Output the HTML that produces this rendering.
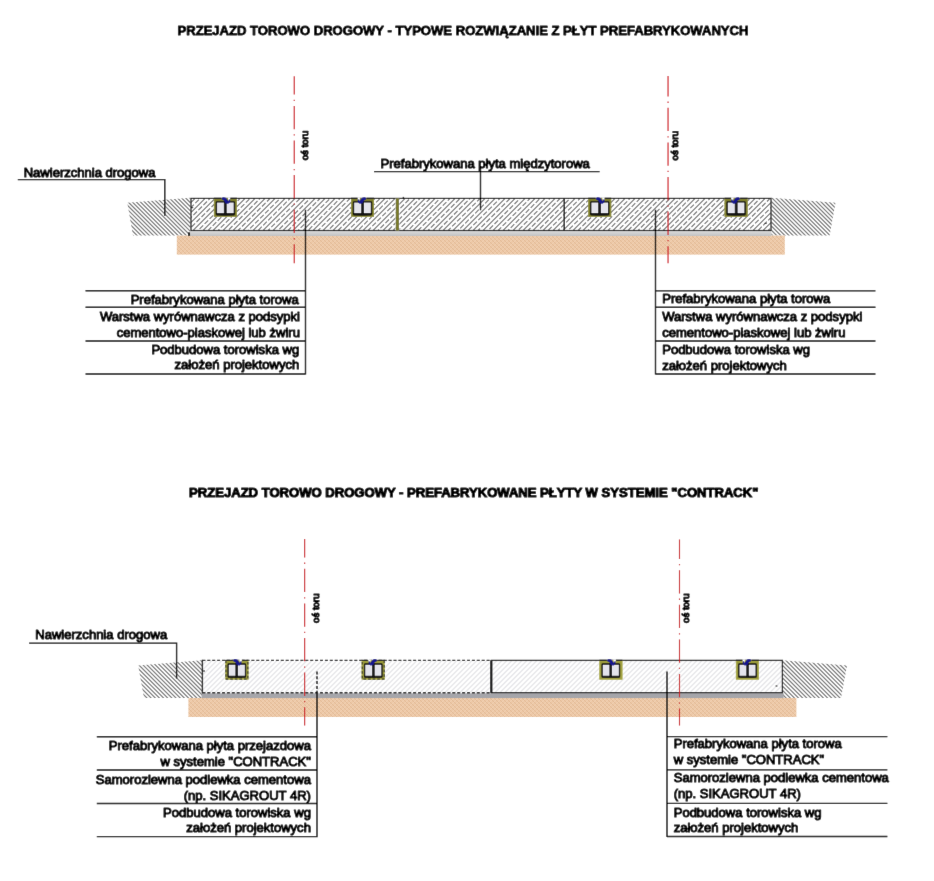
<!DOCTYPE html>
<html lang="pl"><head><meta charset="utf-8"><title>Przejazd torowo drogowy</title>
<style>html,body{margin:0;padding:0;background:#fff;font-family:"Liberation Sans",sans-serif}svg{display:block}</style>
</head><body>
<svg width="934" height="881" viewBox="0 0 934 881" font-family="'Liberation Sans', sans-serif">
<defs>
<filter id="soft" x="0" y="0" width="934" height="881" filterUnits="userSpaceOnUse"><feConvolveMatrix order="3" kernelMatrix="0 1 0 1 12 1 0 1 0" divisor="16" edgeMode="duplicate" preserveAlpha="true"/></filter>
<linearGradient id="gl" x1="0" y1="0" x2="0" y2="1"><stop offset="0" stop-color="#dcdcdc"/><stop offset="1" stop-color="#c2c2c2"/></linearGradient>
<pattern id="hsand" width="4" height="4" patternUnits="userSpaceOnUse">
 <rect width="4" height="4" fill="#edc9a7"/>
 <path d="M-1 -1 L5 5 M-3 1 L3 7 M1 -3 L7 3" stroke="#e0b892" stroke-width="0.9" fill="none"/>
 <path d="M-1 5 L5 -1 M-3 3 L3 -3 M1 7 L7 1" stroke="#f3d6bb" stroke-width="0.7" fill="none"/>
</pattern>
</defs>
<style>
.ln{stroke:#050505;stroke-width:1.4;fill:none}
.lb{font-size:13.04px;fill:#000;stroke:#000;stroke-width:1.1px;stroke-linejoin:round}
.tt{font-size:13px;font-weight:bold;fill:#000;stroke:#000;stroke-width:0.9px;stroke-linejoin:round}
.t2{stroke-width:1.15px}
.vt{font-size:9.7px;fill:#000;stroke:#000;stroke-width:1.2px;stroke-linejoin:round}
</style>
<g filter="url(#soft)">
<rect x="-5" y="-5" width="944" height="891" fill="#fff"/>

<text x="177.5" y="34.85" class="tt" textLength="570.9" lengthAdjust="spacingAndGlyphs">PRZEJAZD TOROWO DROGOWY - TYPOWE ROZWIĄZANIE Z PŁYT PREFABRYKOWANYCH</text>
<g>
<clipPath id="c1"><polygon points="127.3,202.8 190.5,197.8 190.5,235.4 133,235.4"/></clipPath><path d="M196.0 196.0L236.6 236.6M191.9 196.0L232.5 236.6M187.8 196.0L228.4 236.6M183.7 196.0L224.3 236.6M179.6 196.0L220.2 236.6M175.5 196.0L216.1 236.6M171.4 196.0L212.0 236.6M167.3 196.0L207.9 236.6M163.2 196.0L203.8 236.6M159.1 196.0L199.7 236.6M155.0 196.0L195.6 236.6M150.9 196.0L191.5 236.6M146.8 196.0L187.4 236.6M142.7 196.0L183.3 236.6M138.6 196.0L179.2 236.6M134.5 196.0L175.1 236.6M130.4 196.0L171.0 236.6M126.3 196.0L166.9 236.6M122.2 196.0L162.8 236.6M118.1 196.0L158.7 236.6M114.0 196.0L154.6 236.6M109.9 196.0L150.5 236.6M105.8 196.0L146.4 236.6M101.7 196.0L142.3 236.6M97.6 196.0L138.2 236.6M93.5 196.0L134.1 236.6M89.4 196.0L130.0 236.6M85.3 196.0L125.9 236.6M81.2 196.0L121.8 236.6" clip-path="url(#c1)" stroke="#707070" stroke-width="1.18" fill="none"/>
<clipPath id="c2"><polygon points="771.3,197.8 835.5,202.8 829.6,235.4 771.3,235.4"/></clipPath><path d="M839.7 196.0L880.3 236.6M835.6 196.0L876.2 236.6M831.5 196.0L872.1 236.6M827.4 196.0L868.0 236.6M823.3 196.0L863.9 236.6M819.2 196.0L859.8 236.6M815.1 196.0L855.7 236.6M811.0 196.0L851.6 236.6M806.9 196.0L847.5 236.6M802.8 196.0L843.4 236.6M798.7 196.0L839.3 236.6M794.6 196.0L835.2 236.6M790.5 196.0L831.1 236.6M786.4 196.0L827.0 236.6M782.3 196.0L822.9 236.6M778.2 196.0L818.8 236.6M774.1 196.0L814.7 236.6M770.0 196.0L810.6 236.6M765.9 196.0L806.5 236.6M761.8 196.0L802.4 236.6M757.7 196.0L798.3 236.6M753.6 196.0L794.2 236.6M749.5 196.0L790.1 236.6M745.4 196.0L786.0 236.6M741.3 196.0L781.9 236.6M737.2 196.0L777.8 236.6M733.1 196.0L773.7 236.6M729.0 196.0L769.6 236.6M724.9 196.0L765.5 236.6" clip-path="url(#c2)" stroke="#707070" stroke-width="1.18" fill="none"/>
</g>
<rect x="176.8" y="235.6" width="608" height="19" fill="url(#hsand)"/>
<rect x="190.3" y="231" width="581" height="5" fill="url(#gl)"/>
<g>
<rect x="191" y="198.4" width="580" height="32.099999999999994" fill="#fff"/>
<clipPath id="c3"><rect x="191" y="198.4" width="580" height="32.1"/></clipPath><g clip-path="url(#c3)"><path d="M142.0 231.5L176.1 197.4M152.0 231.5L186.1 197.4M162.0 231.5L196.1 197.4M172.0 231.5L206.1 197.4M182.0 231.5L216.1 197.4M192.0 231.5L226.1 197.4M202.0 231.5L236.1 197.4M212.0 231.5L246.1 197.4M222.0 231.5L256.1 197.4M232.0 231.5L266.1 197.4M242.0 231.5L276.1 197.4M252.0 231.5L286.1 197.4M262.0 231.5L296.1 197.4M272.0 231.5L306.1 197.4M282.0 231.5L316.1 197.4M292.0 231.5L326.1 197.4M302.0 231.5L336.1 197.4M312.0 231.5L346.1 197.4M322.0 231.5L356.1 197.4M332.0 231.5L366.1 197.4M342.0 231.5L376.1 197.4M352.0 231.5L386.1 197.4M362.0 231.5L396.1 197.4M372.0 231.5L406.1 197.4M382.0 231.5L416.1 197.4M392.0 231.5L426.1 197.4M402.0 231.5L436.1 197.4M412.0 231.5L446.1 197.4M422.0 231.5L456.1 197.4M432.0 231.5L466.1 197.4M442.0 231.5L476.1 197.4M452.0 231.5L486.1 197.4M462.0 231.5L496.1 197.4M472.0 231.5L506.1 197.4M482.0 231.5L516.1 197.4M492.0 231.5L526.1 197.4M502.0 231.5L536.1 197.4M512.0 231.5L546.1 197.4M522.0 231.5L556.1 197.4M532.0 231.5L566.1 197.4M542.0 231.5L576.1 197.4M552.0 231.5L586.1 197.4M562.0 231.5L596.1 197.4M572.0 231.5L606.1 197.4M582.0 231.5L616.1 197.4M592.0 231.5L626.1 197.4M602.0 231.5L636.1 197.4M612.0 231.5L646.1 197.4M622.0 231.5L656.1 197.4M632.0 231.5L666.1 197.4M642.0 231.5L676.1 197.4M652.0 231.5L686.1 197.4M662.0 231.5L696.1 197.4M672.0 231.5L706.1 197.4M682.0 231.5L716.1 197.4M692.0 231.5L726.1 197.4M702.0 231.5L736.1 197.4M712.0 231.5L746.1 197.4M722.0 231.5L756.1 197.4M732.0 231.5L766.1 197.4M742.0 231.5L776.1 197.4M752.0 231.5L786.1 197.4M762.0 231.5L796.1 197.4M772.0 231.5L806.1 197.4M782.0 231.5L816.1 197.4" stroke="#6a6a6a" stroke-width="1.1" fill="none"/></g>
<clipPath id="c4"><rect x="191" y="198.4" width="580" height="32.1"/></clipPath><g clip-path="url(#c4)"><path d="M144.1 234.4L181.1 197.4M152.2 236.3L191.1 197.4M165.3 233.2L201.1 197.4M173.4 235.1L211.1 197.4M186.5 232.0L221.1 197.4M194.6 233.9L231.1 197.4M202.7 235.8L241.1 197.4M215.8 232.7L251.1 197.4M223.9 234.6L261.1 197.4M237.0 231.5L271.1 197.4M245.1 233.4L281.1 197.4M253.2 235.3L291.1 197.4M266.3 232.2L301.1 197.4M274.4 234.1L311.1 197.4M282.5 236.0L321.1 197.4M295.6 232.9L331.1 197.4M303.7 234.8L341.1 197.4M316.8 231.7L351.1 197.4M324.9 233.6L361.1 197.4M333.0 235.5L371.1 197.4M346.1 232.4L381.1 197.4M354.2 234.3L391.1 197.4M362.3 236.2L401.1 197.4M375.4 233.1L411.1 197.4M383.5 235.0L421.1 197.4M396.6 231.9L431.1 197.4M404.7 233.8L441.1 197.4M412.8 235.7L451.1 197.4M425.9 232.6L461.1 197.4M434.0 234.5L471.1 197.4M442.1 236.4L481.1 197.4M455.2 233.3L491.1 197.4M463.3 235.2L501.1 197.4M476.4 232.1L511.1 197.4M484.5 234.0L521.1 197.4M492.6 235.9L531.1 197.4M505.7 232.8L541.1 197.4M513.8 234.7L551.1 197.4M526.9 231.6L561.1 197.4M535.0 233.5L571.1 197.4M543.1 235.4L581.1 197.4M556.2 232.3L591.1 197.4M564.3 234.2L601.1 197.4M572.4 236.1L611.1 197.4M585.5 233.0L621.1 197.4M593.6 234.9L631.1 197.4M606.7 231.8L641.1 197.4M614.8 233.7L651.1 197.4M622.9 235.6L661.1 197.4M636.0 232.5L671.1 197.4M644.1 234.4L681.1 197.4M652.2 236.3L691.1 197.4M665.3 233.2L701.1 197.4M673.4 235.1L711.1 197.4M686.5 232.0L721.1 197.4M694.6 233.9L731.1 197.4M702.7 235.8L741.1 197.4M715.8 232.7L751.1 197.4M723.9 234.6L761.1 197.4M737.0 231.5L771.1 197.4M745.1 233.4L781.1 197.4M753.2 235.3L791.1 197.4M766.3 232.2L801.1 197.4M774.4 234.1L811.1 197.4M782.5 236.0L821.1 197.4" stroke="#6a6a6a" stroke-width="1.1" fill="none" stroke-dasharray="5.1 1.97"/></g>
<rect x="191" y="198.4" width="580" height="32.099999999999994" fill="none" stroke="#181818" stroke-width="1.2"/>
</g>
<rect x="395.4" y="198.4" width="4" height="32.099999999999994" fill="#fff"/>
<rect x="396" y="198.4" width="2.8" height="32.099999999999994" fill="#7c7c2c" stroke="#5a5a22" stroke-width="0.4"/>
<rect x="402.7" y="196.9" width="1.4" height="1.4" fill="#111"/>
<path d="M564.2 198.4V230.5" stroke="#111" stroke-width="1.4"/>
<rect x="188" y="232.4" width="2.1" height="3.4" fill="#111"/>
<path d="M191 207.7 H193.2 M764.6 223.4 H766.6" stroke="#111" stroke-width="1"/>
<g transform="translate(213.9,198.4)"><rect x="0" y="-0.4" width="23" height="18.799999999999997" fill="#7a7a2a"/><rect x="0.4" y="0.4" width="22.2" height="17.599999999999998" fill="none" stroke="#9c9c44" stroke-width="0.7"/><rect x="2.5" y="3.5" width="18" height="12.9" rx="0.8" fill="#e4e4ec" stroke="#0e0e0e" stroke-width="1.35"/><path d="M2.6 14.6 H20.4 V16.4 Q11.5 17.6 2.6 16.4 Z" fill="#161616"/><rect x="10" y="3" width="2.8" height="12" fill="#141414"/><path d="M13.8 -1 L16.4 -1 L16.2 1.2 L15 3.2 Z" fill="#fff"/><path d="M7.6 0.2 C7.8 -1.5 10.8 -1.8 12.2 -0.3 L14.4 2.8 L15.4 0.9 L16.4 1.4 L16 4.2 L14.2 5.4 L11.6 5 L10 2 L8.2 1.3 Z" fill="#18188c"/><path d="M0 0 H7.4 M16.6 0 H23" stroke="#111" stroke-width="1.2" fill="none"/></g>
<g transform="translate(351.1,198.4) translate(22.9,0) scale(-1,1)"><rect x="0" y="-0.4" width="23" height="18.799999999999997" fill="#7a7a2a"/><rect x="0.4" y="0.4" width="22.2" height="17.599999999999998" fill="none" stroke="#9c9c44" stroke-width="0.7"/><rect x="2.5" y="3.5" width="18" height="12.9" rx="0.8" fill="#e4e4ec" stroke="#0e0e0e" stroke-width="1.35"/><path d="M2.6 14.6 H20.4 V16.4 Q11.5 17.6 2.6 16.4 Z" fill="#161616"/><rect x="10" y="3" width="2.8" height="12" fill="#141414"/><path d="M13.8 -1 L16.4 -1 L16.2 1.2 L15 3.2 Z" fill="#fff"/><path d="M7.6 0.2 C7.8 -1.5 10.8 -1.8 12.2 -0.3 L14.4 2.8 L15.4 0.9 L16.4 1.4 L16 4.2 L14.2 5.4 L11.6 5 L10 2 L8.2 1.3 Z" fill="#18188c"/><path d="M0 0 H7.4 M16.6 0 H23" stroke="#111" stroke-width="1.2" fill="none"/></g>
<g transform="translate(588.2,198.4)"><rect x="0" y="-0.4" width="23" height="18.799999999999997" fill="#7a7a2a"/><rect x="0.4" y="0.4" width="22.2" height="17.599999999999998" fill="none" stroke="#9c9c44" stroke-width="0.7"/><rect x="2.5" y="3.5" width="18" height="12.9" rx="0.8" fill="#e4e4ec" stroke="#0e0e0e" stroke-width="1.35"/><path d="M2.6 14.6 H20.4 V16.4 Q11.5 17.6 2.6 16.4 Z" fill="#161616"/><rect x="10" y="3" width="2.8" height="12" fill="#141414"/><path d="M13.8 -1 L16.4 -1 L16.2 1.2 L15 3.2 Z" fill="#fff"/><path d="M7.6 0.2 C7.8 -1.5 10.8 -1.8 12.2 -0.3 L14.4 2.8 L15.4 0.9 L16.4 1.4 L16 4.2 L14.2 5.4 L11.6 5 L10 2 L8.2 1.3 Z" fill="#18188c"/><path d="M0 0 H7.4 M16.6 0 H23" stroke="#111" stroke-width="1.2" fill="none"/></g>
<g transform="translate(724.7,198.4) translate(22.9,0) scale(-1,1)"><rect x="0" y="-0.4" width="23" height="18.799999999999997" fill="#7a7a2a"/><rect x="0.4" y="0.4" width="22.2" height="17.599999999999998" fill="none" stroke="#9c9c44" stroke-width="0.7"/><rect x="2.5" y="3.5" width="18" height="12.9" rx="0.8" fill="#e4e4ec" stroke="#0e0e0e" stroke-width="1.35"/><path d="M2.6 14.6 H20.4 V16.4 Q11.5 17.6 2.6 16.4 Z" fill="#161616"/><rect x="10" y="3" width="2.8" height="12" fill="#141414"/><path d="M13.8 -1 L16.4 -1 L16.2 1.2 L15 3.2 Z" fill="#fff"/><path d="M7.6 0.2 C7.8 -1.5 10.8 -1.8 12.2 -0.3 L14.4 2.8 L15.4 0.9 L16.4 1.4 L16 4.2 L14.2 5.4 L11.6 5 L10 2 L8.2 1.3 Z" fill="#18188c"/><path d="M0 0 H7.4 M16.6 0 H23" stroke="#111" stroke-width="1.2" fill="none"/></g>
<line x1="294.25" y1="76.2" x2="294.25" y2="263.2" stroke="#cc1c24" stroke-width="1.15" stroke-dasharray="23.3 5.1 1.3 4.9" stroke-dashoffset="4.9"/>
<line x1="668.05" y1="76.1" x2="668.05" y2="263.2" stroke="#cc1c24" stroke-width="1.15" stroke-dasharray="23.3 5.1 1.3 4.9" stroke-dashoffset="2.9"/>
<text transform="translate(307.9,145.5) rotate(-90)" text-anchor="middle" class="vt">oś toru</text>
<text transform="translate(677.9,145.7) rotate(-90)" text-anchor="middle" class="vt">oś toru</text>
<text x="23.7" y="176.5" class="lb">Nawierzchnia drogowa</text>
<path d="M17.8 179.6 H164.8 V215.8" class="ln"/>
<text x="380.5" y="168" class="lb">Prefabrykowana płyta międzytorowa</text>
<path d="M374 171.6 H599.6 M480.5 166 V210.2" class="ln"/>
<path d="M85.5 290.8H305.5M85.5 307.2H305.5M85.5 341H305.5M85.5 374H305.5M305.5 209.7V374.6" class="ln"/><text x="298.7" y="303.7" text-anchor="end" class="lb">Prefabrykowana płyta torowa</text><text x="300.0" y="321.2" text-anchor="end" class="lb">Warstwa wyrównawcza z podsypki</text><text x="299.9" y="337" text-anchor="end" class="lb">cementowo-piaskowej lub żwiru</text><text x="299.2" y="354.4" text-anchor="end" class="lb">Podbudowa torowiska wg</text><text x="299.2" y="369.2" text-anchor="end" class="lb">założeń projektowych</text>
<path d="M655.5 290.9H875.5M655.5 307.2H875.5M655.5 341H875.5M655.5 374H875.5M655.5 209.7V374.6" class="ln"/><text x="662.2" y="303.4" class="lb">Prefabrykowana płyta torowa</text><text x="662.2" y="320.7" class="lb">Warstwa wyrównawcza z podsypki</text><text x="662.2" y="337" class="lb">cementowo-piaskowej lub żwiru</text><text x="662.2" y="354.3" class="lb">Podbudowa torowiska wg</text><text x="662.2" y="369.5" class="lb">założeń projektowych</text>
<text x="189.1" y="497.4" class="tt t2" textLength="569.3" lengthAdjust="spacingAndGlyphs">PRZEJAZD TOROWO DROGOWY - PREFABRYKOWANE PŁYTY W SYSTEMIE "CONTRACK"</text>
<g>
<clipPath id="c5"><polygon points="138.2,665.4 202,660.2 202,698 144,698"/></clipPath><path d="M206.6 658.0L247.8 699.2M202.4 658.0L243.6 699.2M198.2 658.0L239.5 699.2M194.1 658.0L235.3 699.2M189.9 658.0L231.2 699.2M185.8 658.0L227.0 699.2M181.6 658.0L222.9 699.2M177.5 658.0L218.7 699.2M173.4 658.0L214.6 699.2M169.2 658.0L210.4 699.2M165.1 658.0L206.3 699.2M160.9 658.0L202.1 699.2M156.8 658.0L198.0 699.2M152.6 658.0L193.8 699.2M148.4 658.0L189.7 699.2M144.3 658.0L185.5 699.2M140.1 658.0L181.4 699.2M136.0 658.0L177.2 699.2M131.9 658.0L173.1 699.2M127.7 658.0L168.9 699.2M123.5 658.0L164.8 699.2M119.4 658.0L160.6 699.2M115.2 658.0L156.5 699.2M111.1 658.0L152.3 699.2M107.0 658.0L148.2 699.2M102.8 658.0L144.0 699.2M98.6 658.0L139.9 699.2M94.5 658.0L135.7 699.2M90.4 658.0L131.6 699.2" clip-path="url(#c5)" stroke="#707070" stroke-width="1.18" fill="none"/>
<clipPath id="c6"><polygon points="782.6,660.2 847,665.4 841,698 782.6,698"/></clipPath><path d="M854.0 658.0L895.2 699.2M849.8 658.0L891.0 699.2M845.7 658.0L886.9 699.2M841.5 658.0L882.7 699.2M837.4 658.0L878.6 699.2M833.2 658.0L874.4 699.2M829.1 658.0L870.3 699.2M824.9 658.0L866.1 699.2M820.8 658.0L862.0 699.2M816.6 658.0L857.8 699.2M812.5 658.0L853.7 699.2M808.3 658.0L849.5 699.2M804.2 658.0L845.4 699.2M800.0 658.0L841.2 699.2M795.9 658.0L837.1 699.2M791.7 658.0L832.9 699.2M787.6 658.0L828.8 699.2M783.4 658.0L824.6 699.2M779.2 658.0L820.5 699.2M775.1 658.0L816.3 699.2M771.0 658.0L812.2 699.2M766.8 658.0L808.0 699.2M762.7 658.0L803.9 699.2M758.5 658.0L799.7 699.2M754.4 658.0L795.6 699.2M750.2 658.0L791.4 699.2M746.1 658.0L787.3 699.2M741.9 658.0L783.1 699.2M737.8 658.0L779.0 699.2M733.6 658.0L774.8 699.2" clip-path="url(#c6)" stroke="#707070" stroke-width="1.18" fill="none"/>
</g>
<rect x="188.4" y="698" width="608" height="19" fill="url(#hsand)"/>
<rect x="201.6" y="693.3" width="582" height="4.8" fill="#a6a6aa"/>
<g>
<rect x="202.4" y="660.4" width="580" height="32.30000000000007" fill="#fff"/>
<clipPath id="c7"><rect x="202.4" y="660.4" width="580.0" height="32.3"/></clipPath><g clip-path="url(#c7)"><path d="M163.8 693.7L198.1 659.4M168.8 693.7L203.1 659.4M173.8 693.7L208.1 659.4M178.8 693.7L213.1 659.4M183.8 693.7L218.1 659.4M188.8 693.7L223.1 659.4M193.8 693.7L228.1 659.4M198.8 693.7L233.1 659.4M203.8 693.7L238.1 659.4M208.8 693.7L243.1 659.4M213.8 693.7L248.1 659.4M218.8 693.7L253.1 659.4M223.8 693.7L258.1 659.4M228.8 693.7L263.1 659.4M233.8 693.7L268.1 659.4M238.8 693.7L273.1 659.4M243.8 693.7L278.1 659.4M248.8 693.7L283.1 659.4M253.8 693.7L288.1 659.4M258.8 693.7L293.1 659.4M263.8 693.7L298.1 659.4M268.8 693.7L303.1 659.4M273.8 693.7L308.1 659.4M278.8 693.7L313.1 659.4M283.8 693.7L318.1 659.4M288.8 693.7L323.1 659.4M293.8 693.7L328.1 659.4M298.8 693.7L333.1 659.4M303.8 693.7L338.1 659.4M308.8 693.7L343.1 659.4M313.8 693.7L348.1 659.4M318.8 693.7L353.1 659.4M323.8 693.7L358.1 659.4M328.8 693.7L363.1 659.4M333.8 693.7L368.1 659.4M338.8 693.7L373.1 659.4M343.8 693.7L378.1 659.4M348.8 693.7L383.1 659.4M353.8 693.7L388.1 659.4M358.8 693.7L393.1 659.4M363.8 693.7L398.1 659.4M368.8 693.7L403.1 659.4M373.8 693.7L408.1 659.4M378.8 693.7L413.1 659.4M383.8 693.7L418.1 659.4M388.8 693.7L423.1 659.4M393.8 693.7L428.1 659.4M398.8 693.7L433.1 659.4M403.8 693.7L438.1 659.4M408.8 693.7L443.1 659.4M413.8 693.7L448.1 659.4M418.8 693.7L453.1 659.4M423.8 693.7L458.1 659.4M428.8 693.7L463.1 659.4M433.8 693.7L468.1 659.4M438.8 693.7L473.1 659.4M443.8 693.7L478.1 659.4M448.8 693.7L483.1 659.4M453.8 693.7L488.1 659.4M458.8 693.7L493.1 659.4M463.8 693.7L498.1 659.4M468.8 693.7L503.1 659.4M473.8 693.7L508.1 659.4M478.8 693.7L513.1 659.4M483.8 693.7L518.1 659.4M488.8 693.7L523.1 659.4M493.8 693.7L528.1 659.4M498.8 693.7L533.1 659.4M503.8 693.7L538.1 659.4M508.8 693.7L543.1 659.4M513.8 693.7L548.1 659.4M518.8 693.7L553.1 659.4M523.8 693.7L558.1 659.4M528.8 693.7L563.1 659.4M533.8 693.7L568.1 659.4M538.8 693.7L573.1 659.4M543.8 693.7L578.1 659.4M548.8 693.7L583.1 659.4M553.8 693.7L588.1 659.4M558.8 693.7L593.1 659.4M563.8 693.7L598.1 659.4M568.8 693.7L603.1 659.4M573.8 693.7L608.1 659.4M578.8 693.7L613.1 659.4M583.8 693.7L618.1 659.4M588.8 693.7L623.1 659.4M593.8 693.7L628.1 659.4M598.8 693.7L633.1 659.4M603.8 693.7L638.1 659.4M608.8 693.7L643.1 659.4M613.8 693.7L648.1 659.4M618.8 693.7L653.1 659.4M623.8 693.7L658.1 659.4M628.8 693.7L663.1 659.4M633.8 693.7L668.1 659.4M638.8 693.7L673.1 659.4M643.8 693.7L678.1 659.4M648.8 693.7L683.1 659.4M653.8 693.7L688.1 659.4M658.8 693.7L693.1 659.4M663.8 693.7L698.1 659.4M668.8 693.7L703.1 659.4M673.8 693.7L708.1 659.4M678.8 693.7L713.1 659.4M683.8 693.7L718.1 659.4M688.8 693.7L723.1 659.4M693.8 693.7L728.1 659.4M698.8 693.7L733.1 659.4M703.8 693.7L738.1 659.4M708.8 693.7L743.1 659.4M713.8 693.7L748.1 659.4M718.8 693.7L753.1 659.4M723.8 693.7L758.1 659.4M728.8 693.7L763.1 659.4M733.8 693.7L768.1 659.4M738.8 693.7L773.1 659.4M743.8 693.7L778.1 659.4M748.8 693.7L783.1 659.4M753.8 693.7L788.1 659.4M758.8 693.7L793.1 659.4M763.8 693.7L798.1 659.4M768.8 693.7L803.1 659.4M773.8 693.7L808.1 659.4M778.8 693.7L813.1 659.4M783.8 693.7L818.1 659.4M788.8 693.7L823.1 659.4" stroke="#e5e5e8" stroke-width="1.3" fill="none"/></g>
<path d="M202.4 660.4 H491.4 M202.4 692.7 H491.4" fill="none" stroke="#1c1c1c" stroke-width="1.4" stroke-dasharray="3 1.9"/>
<path d="M202.4 659.8 V693.3000000000001" fill="none" stroke="#1c1c1c" stroke-width="1.4"/>
<rect x="491.4" y="660.4" width="291" height="32.30000000000007" fill="none" stroke="#1a1a1a" stroke-width="1.3"/>
<path d="M491.3 660.4 V692.7" stroke="#111" stroke-width="2.2"/>
</g>
<path d="M202.4 671 H205 M775.6 686 H777.4" stroke="#111" stroke-width="1"/>
<g transform="translate(225.4,660.4)"><rect x="0" y="-0.4" width="23" height="19.599999999999998" fill="#98983a"/><rect x="0.4" y="0.4" width="22.2" height="18.4" fill="none" stroke="#b4b450" stroke-width="0.7"/><rect x="2.7" y="3.6" width="17.4" height="13.2" rx="0.8" fill="#e4e4ec" stroke="#0e0e0e" stroke-width="1.3"/><path d="M2.8 15.4 H20 V16.8 Q11.4 17.8 2.8 16.8 Z" fill="#161616"/><rect x="10" y="3" width="2.6" height="13" fill="#141414"/><path d="M13.8 -1 L16.4 -1 L16.2 1.2 L15 3.2 Z" fill="#fff"/><path d="M7.6 0 C7.8 -1.6 10.8 -2 12.2 -0.6 L14.4 2.6 L15.4 0.6 L16.2 1 L15.8 3.8 L14.2 5.2 L11.6 4.8 L10 1.8 L8.2 1 Z" fill="#17178c"/><path d="M0 0 H7.4 M16.6 0 H23" stroke="#111" stroke-width="1.2" fill="none"/><path d="M0.5 0 V18.7 H22.5 V0" fill="none" stroke="#1c1c1c" stroke-width="0.9" stroke-dasharray="2.6 2"/></g>
<g transform="translate(361.8,660.4) translate(22.9,0) scale(-1,1)"><rect x="0" y="-0.4" width="23" height="19.599999999999998" fill="#98983a"/><rect x="0.4" y="0.4" width="22.2" height="18.4" fill="none" stroke="#b4b450" stroke-width="0.7"/><rect x="2.7" y="3.6" width="17.4" height="13.2" rx="0.8" fill="#e4e4ec" stroke="#0e0e0e" stroke-width="1.3"/><path d="M2.8 15.4 H20 V16.8 Q11.4 17.8 2.8 16.8 Z" fill="#161616"/><rect x="10" y="3" width="2.6" height="13" fill="#141414"/><path d="M13.8 -1 L16.4 -1 L16.2 1.2 L15 3.2 Z" fill="#fff"/><path d="M7.6 0 C7.8 -1.6 10.8 -2 12.2 -0.6 L14.4 2.6 L15.4 0.6 L16.2 1 L15.8 3.8 L14.2 5.2 L11.6 4.8 L10 1.8 L8.2 1 Z" fill="#17178c"/><path d="M0 0 H7.4 M16.6 0 H23" stroke="#111" stroke-width="1.2" fill="none"/><path d="M0.5 0 V18.7 H22.5 V0" fill="none" stroke="#1c1c1c" stroke-width="0.9" stroke-dasharray="2.6 2"/></g>
<g transform="translate(599.4,660.4)"><rect x="0" y="-0.4" width="23" height="19.599999999999998" fill="#98983a"/><rect x="0.4" y="0.4" width="22.2" height="18.4" fill="none" stroke="#b4b450" stroke-width="0.7"/><rect x="2.7" y="3.6" width="17.4" height="13.2" rx="0.8" fill="#e4e4ec" stroke="#0e0e0e" stroke-width="1.3"/><path d="M2.8 15.4 H20 V16.8 Q11.4 17.8 2.8 16.8 Z" fill="#161616"/><rect x="10" y="3" width="2.6" height="13" fill="#141414"/><path d="M13.8 -1 L16.4 -1 L16.2 1.2 L15 3.2 Z" fill="#fff"/><path d="M7.6 0 C7.8 -1.6 10.8 -2 12.2 -0.6 L14.4 2.6 L15.4 0.6 L16.2 1 L15.8 3.8 L14.2 5.2 L11.6 4.8 L10 1.8 L8.2 1 Z" fill="#17178c"/><path d="M0 0 H7.4 M16.6 0 H23" stroke="#111" stroke-width="1.2" fill="none"/></g>
<g transform="translate(736,660.4) translate(22.9,0) scale(-1,1)"><rect x="0" y="-0.4" width="23" height="19.599999999999998" fill="#98983a"/><rect x="0.4" y="0.4" width="22.2" height="18.4" fill="none" stroke="#b4b450" stroke-width="0.7"/><rect x="2.7" y="3.6" width="17.4" height="13.2" rx="0.8" fill="#e4e4ec" stroke="#0e0e0e" stroke-width="1.3"/><path d="M2.8 15.4 H20 V16.8 Q11.4 17.8 2.8 16.8 Z" fill="#161616"/><rect x="10" y="3" width="2.6" height="13" fill="#141414"/><path d="M13.8 -1 L16.4 -1 L16.2 1.2 L15 3.2 Z" fill="#fff"/><path d="M7.6 0 C7.8 -1.6 10.8 -2 12.2 -0.6 L14.4 2.6 L15.4 0.6 L16.2 1 L15.8 3.8 L14.2 5.2 L11.6 4.8 L10 1.8 L8.2 1 Z" fill="#17178c"/><path d="M0 0 H7.4 M16.6 0 H23" stroke="#111" stroke-width="1.2" fill="none"/></g>
<line x1="304.65" y1="539.1" x2="304.65" y2="725.4" stroke="#cc1c24" stroke-width="1.15" stroke-dasharray="23.3 5.1 1.3 4.9" stroke-dashoffset="4.9"/>
<line x1="679.5" y1="539.4" x2="679.5" y2="725.6" stroke="#cc1c24" stroke-width="1.15" stroke-dasharray="23.3 5.1 1.3 4.9" stroke-dashoffset="3.8"/>
<text transform="translate(319.3,608.2) rotate(-90)" text-anchor="middle" class="vt">oś toru</text>
<text transform="translate(689.2,608.2) rotate(-90)" text-anchor="middle" class="vt">oś toru</text>
<text x="35.3" y="639.3" class="lb">Nawierzchnia drogowa</text>
<path d="M29.1 643.1 H176.6 V678.6" class="ln"/>
<path d="M96.8 736.7H317.0M96.8 770H317.0M96.8 803.5H317.0M96.8 836.6H317.0M317.0 692.5V837.2" class="ln"/><text x="310.9" y="750.3" text-anchor="end" class="lb">Prefabrykowana płyta przejazdowa</text><text x="310.9" y="765.9" text-anchor="end" class="lb">w systemie "CONTRACK"</text><text x="310.9" y="783.6" text-anchor="end" class="lb">Samorozlewna podlewka cementowa</text><text x="310.9" y="799.6" text-anchor="end" class="lb">(np. SIKAGROUT 4R)</text><text x="310.9" y="816.5" text-anchor="end" class="lb">Podbudowa torowiska wg</text><text x="310.9" y="831.9" text-anchor="end" class="lb">założeń projektowych</text>
<path d="M317 671.5 V692.5" class="ln" stroke-dasharray="3 1.8"/>
<path d="M667.0 736.65H887.4M667.0 769.9H887.4M667.0 803.4H887.4M667.0 836.5H887.4M667.0 671.5V837.1" class="ln"/><text x="673.7" y="747.9" class="lb">Prefabrykowana płyta torowa</text><text x="673.7" y="764.1" class="lb">w systemie "CONTRACK"</text><text x="673.7" y="782" class="lb">Samorozlewna podlewka cementowa</text><text x="673.7" y="797.8" class="lb">(np. SIKAGROUT 4R)</text><text x="673.7" y="816.6" class="lb">Podbudowa torowiska wg</text><text x="673.7" y="831.5" class="lb">założeń projektowych</text>
</g></svg>
</body></html>
